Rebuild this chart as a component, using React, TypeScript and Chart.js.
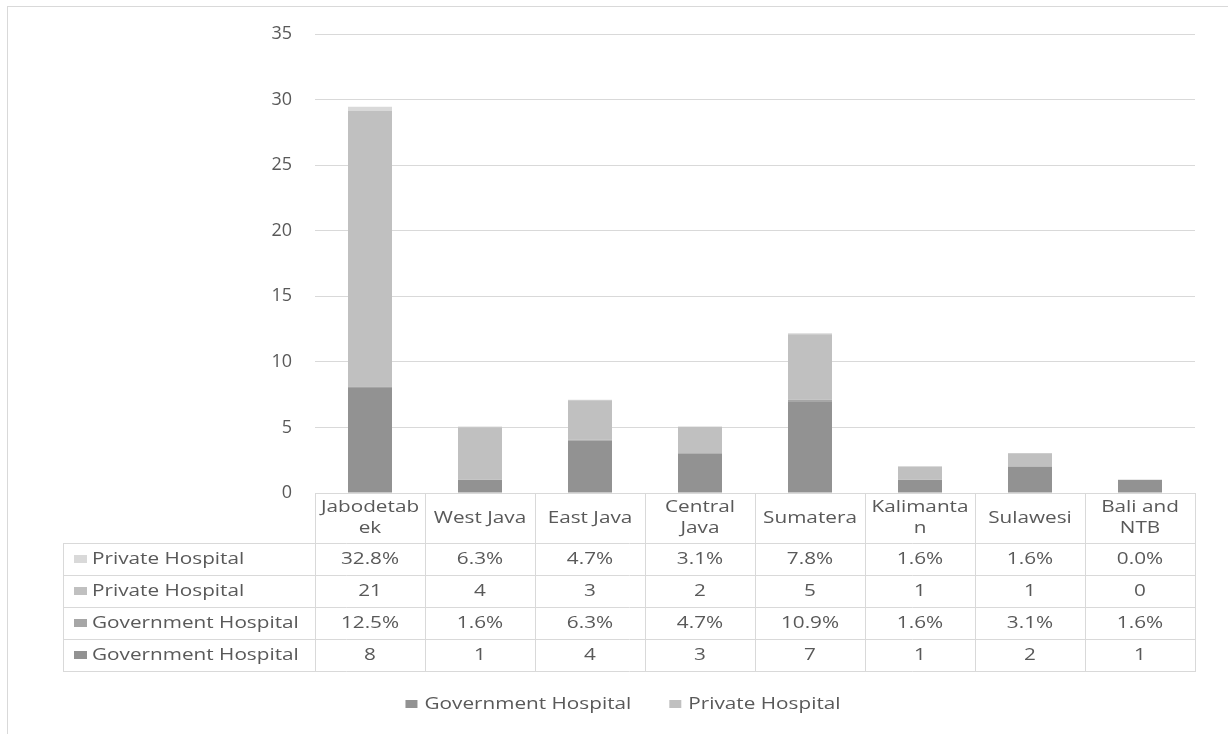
import React, { useEffect, useRef } from "react";
import { Chart, registerables } from "chart.js";

Chart.register(...registerables);

const categories = ["Jabodetabek", "West Java", "East Java", "Central Java", "Sumatera", "Kalimantan", "Sulawesi", "Bali and NTB"];
const categoryLines = [["Jabodetab", "ek"], ["West Java"], ["East Java"], ["Central", "Java"], ["Sumatera"], ["Kalimanta", "n"], ["Sulawesi"], ["Bali and", "NTB"]];
const govCount = [8, 1, 4, 3, 7, 1, 2, 1];
const govPct = [12.5, 1.6, 6.3, 4.7, 10.9, 1.6, 3.1, 1.6];
const privCount = [21, 4, 3, 2, 5, 1, 1, 0];
const privPct = [32.8, 6.3, 4.7, 3.1, 7.8, 1.6, 1.6, 0.0];
const yMax = 35;
const yStep = 5;

const GOV = "#929292";
const GOV_PCT = "#a6a6a6";
const PRIV = "#c0c0c0";
const PRIV_PCT = "#d9d9d9";
const TEXT = "#595959";
const LINE = "#d9d9d9";
const FONT = "17px 'Open Sans'";
const SX = 1.22;

function drawText(ctx: CanvasRenderingContext2D, text: string, x: number, y: number, align: CanvasTextAlign) {
  ctx.save();
  ctx.translate(x, y);
  ctx.scale(SX, 1);
  ctx.textAlign = align;
  ctx.textBaseline = "middle";
  ctx.fillText(text, 0, 0);
  ctx.restore();
}

const tablePlugin = {
  id: "tablePlugin",
  afterDraw(chart: any) {
    const ctx: CanvasRenderingContext2D = chart.ctx;
    const area = chart.chartArea;
    const n = categories.length;
    const cw = (area.right - area.left) / n;
    const top = area.bottom;
    const headerBottom = top + 50;
    const rowH = 32;
    const tableLeft = 63;
    const rows = [
      { label: "Private Hospital", color: PRIV_PCT, vals: privPct.map((v) => v.toFixed(1) + "%") },
      { label: "Private Hospital", color: PRIV, vals: privCount.map((v) => String(v)) },
      { label: "Government Hospital", color: GOV_PCT, vals: govPct.map((v) => v.toFixed(1) + "%") },
      { label: "Government Hospital", color: GOV, vals: govCount.map((v) => String(v)) },
    ];
    const tableBottom = headerBottom + rowH * rows.length;

    ctx.save();
    // outer border
    ctx.strokeStyle = LINE;
    ctx.lineWidth = 1;
    ctx.strokeRect(7.5, 6.5, 1400, 1000);

    // table lines
    ctx.beginPath();
    for (let i = 0; i <= n; i++) {
      const x = Math.round(area.left + i * cw) + 0.5;
      ctx.moveTo(x, top);
      ctx.lineTo(x, tableBottom);
    }
    ctx.moveTo(tableLeft + 0.5, headerBottom);
    ctx.lineTo(tableLeft + 0.5, tableBottom);
    for (let r = 0; r <= rows.length; r++) {
      const y = Math.round(headerBottom + r * rowH) + 0.5;
      ctx.moveTo(tableLeft, y);
      ctx.lineTo(Math.round(area.right) + 1, y);
    }
    ctx.stroke();

    ctx.font = FONT;
    ctx.fillStyle = TEXT;
    // header
    for (let i = 0; i < n; i++) {
      const cx = chart.scales.x.getPixelForValue(i);
      const lines = categoryLines[i];
      const mid = (top + headerBottom) / 2;
      lines.forEach((ln, k) => {
        const y = mid + (k - (lines.length - 1) / 2) * 21;
        drawText(ctx, ln, cx, y, "center");
      });
    }
    // rows
    rows.forEach((row, r) => {
      const cy = headerBottom + r * rowH + rowH / 2;
      ctx.fillStyle = row.color;
      ctx.fillRect(74, cy - 4, 13, 8);
      ctx.fillStyle = TEXT;
      drawText(ctx, row.label, 92, cy, "left");
      row.vals.forEach((v, i) => {
        const cx = chart.scales.x.getPixelForValue(i);
        drawText(ctx, v, cx, cy, "center");
      });
    });

    // bottom legend
    const items = [
      { label: "Government Hospital", color: GOV },
      { label: "Private Hospital", color: PRIV },
    ];
    const widths = items.map((it) => 12 + 7 + ctx.measureText(it.label).width * SX);
    const gap = 38;
    const total = widths.reduce((a, b) => a + b, 0) + gap * (items.length - 1);
    let x = 623 - total / 2;
    const ly = 704;
    items.forEach((it, k) => {
      ctx.fillStyle = it.color;
      ctx.fillRect(x, ly - 4, 12, 8);
      ctx.fillStyle = TEXT;
      drawText(ctx, it.label, x + 19, ly, "left");
      x += widths[k] + gap;
    });
    ctx.restore();
  },
};

export default function App() {
  const ref = useRef<HTMLCanvasElement>(null);
  useEffect(() => {
    const canvas = ref.current!;
    const chart = new Chart(canvas, {
      type: "bar",
      data: {
        labels: categories,
        datasets: [
          { label: "Government Hospital", data: govCount, backgroundColor: GOV },
          { label: "Government Hospital %", data: govPct.map((v) => v / 100), backgroundColor: GOV_PCT },
          { label: "Private Hospital", data: privCount, backgroundColor: PRIV },
          { label: "Private Hospital %", data: privPct.map((v) => v / 100), backgroundColor: PRIV_PCT },
        ],
      },
      options: {
        animation: false,
        responsive: false,
        devicePixelRatio: 1,
        layout: { padding: { top: 34, right: 33, bottom: 241, left: 0 } },
        datasets: { bar: { categoryPercentage: 1, barPercentage: 0.4 } } as any,
        plugins: { legend: { display: false }, tooltip: { enabled: false }, title: { display: false } },
        scales: {
          x: { stacked: true, display: false },
          y: {
            stacked: true,
            min: 0,
            max: yMax,
            afterFit: (scale: any) => {
              scale.width = 315;
            },
            ticks: { stepSize: yStep, color: TEXT, padding: 23, font: { family: "'Open Sans'", size: 18 } },
            grid: { color: LINE, lineWidth: 1, drawTicks: false },
            border: { display: false },
          },
        },
      },
      plugins: [tablePlugin],
    });
    return () => chart.destroy();
  }, []);
  return (
    <div style={{ position: "fixed", left: 0, top: 0, width: 1228, height: 734, background: "#fff" }}>
      <canvas ref={ref} width={1228} height={734} style={{ display: "block" }} />
    </div>
  );
}
